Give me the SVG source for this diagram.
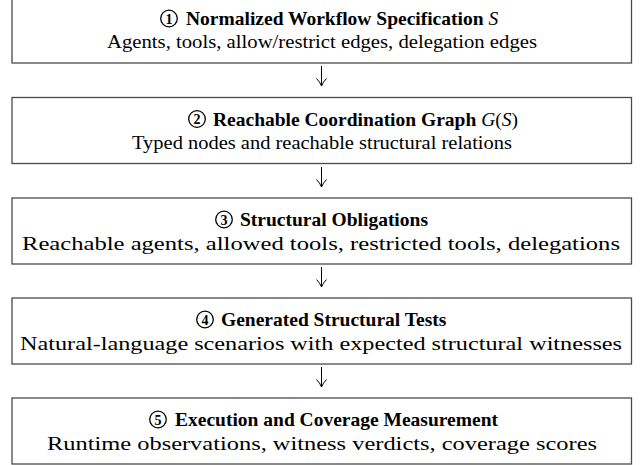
<svg xmlns="http://www.w3.org/2000/svg" width="644" height="465" viewBox="0 0 644 465">
<style>
.box{fill:#fff;stroke:#4a4a4a;stroke-width:1.3}
text{font-family:'Liberation Serif','Times New Roman','DejaVu Serif',serif;font-size:19.5px;fill:#000}
.t{font-weight:bold}
.m{font-style:italic;font-weight:normal}
.r{font-style:normal;font-weight:normal}
.s{text-anchor:middle}
.c{fill:none;stroke:#000;stroke-width:1.3}
.n{font-size:14px;font-weight:bold;text-anchor:middle}
.a{fill:none;stroke:#000;stroke-width:1}
</style>
<g id="node1">
<rect class="box" x="12" y="-3" width="619.5" height="66"/>
<circle class="c" cx="169" cy="18.5" r="8.3"/><text class="n" x="169" y="23.5">1</text>
<text class="t" x="186" y="25">Normalized Workflow Specification <tspan class="m">S</tspan></text>
<text class="s" x="322" y="48" font-size="20.7" textLength="430" lengthAdjust="spacingAndGlyphs">Agents, tools, allow/restrict edges, delegation edges</text>
</g>
<g id="node2">
<rect class="box" x="12" y="97.5" width="619.5" height="66"/>
<circle class="c" cx="197" cy="119" r="8.3"/><text class="n" x="197" y="124">2</text>
<text class="t" x="213" y="125.5">Reachable Coordination Graph <tspan class="m">G</tspan><tspan class="r">(</tspan><tspan class="m">S</tspan><tspan class="r">)</tspan></text>
<text class="s" x="322" y="148.5" font-size="20.6" textLength="380" lengthAdjust="spacingAndGlyphs">Typed nodes and reachable structural relations</text>
</g>
<g id="node3">
<rect class="box" x="12" y="198" width="619.5" height="66"/>
<circle class="c" cx="224" cy="219.5" r="8.3"/><text class="n" x="224" y="224.5">3</text>
<text class="t" x="240" y="226">Structural Obligations</text>
<text class="s" x="321" y="250" font-size="24.5" textLength="598" lengthAdjust="spacingAndGlyphs">Reachable agents, allowed tools, restricted tools, delegations</text>
</g>
<g id="node4">
<rect class="box" x="12" y="298" width="619.5" height="66"/>
<circle class="c" cx="205" cy="319.5" r="8.3"/><text class="n" x="205" y="324.5">4</text>
<text class="t" x="221" y="326">Generated Structural Tests</text>
<text class="s" x="321" y="350" font-size="24.2" textLength="602" lengthAdjust="spacingAndGlyphs">Natural-language scenarios with expected structural witnesses</text>
</g>
<g id="node5">
<rect class="box" x="12" y="398" width="619.5" height="66"/>
<circle class="c" cx="158" cy="419.5" r="8.3"/><text class="n" x="158" y="424.5">5</text>
<text class="t" x="175" y="426">Execution and Coverage Measurement</text>
<text class="s" x="322" y="450" font-size="24.5" textLength="550" lengthAdjust="spacingAndGlyphs">Runtime observations, witness verdicts, coverage scores</text>
</g>
<g id="connectors">
<path class="a" d="M321.5,66 V86 M316.5,78.5 Q320,82 321.5,86 Q323,82 326.5,78.5"/>
<path class="a" d="M321.5,167 V187 M316.5,179.5 Q320,183 321.5,187 Q323,183 326.5,179.5"/>
<path class="a" d="M321.5,267 V287 M316.5,279.5 Q320,283 321.5,287 Q323,283 326.5,279.5"/>
<path class="a" d="M321.5,367 V387 M316.5,379.5 Q320,383 321.5,387 Q323,383 326.5,379.5"/>
</g>
</svg>
